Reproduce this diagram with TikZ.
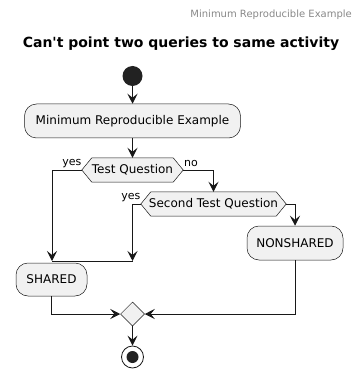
\documentclass[tikz,border=0pt]{standalone}
\usepackage{fontspec}
\setmainfont{DejaVu Sans}[Ligatures=TeXOff]
\usetikzlibrary{arrows.meta,shapes.geometric,calc}
\definecolor{boxfill}{HTML}{F1F1F1}
\definecolor{linecol}{HTML}{181818}
\definecolor{startfill}{HTML}{222222}
\definecolor{headgray}{HTML}{888888}
\begin{document}
\begin{tikzpicture}[x=1pt,y=-1pt,
  conn/.style={draw=linecol,line width=1pt},
  arr/.style={conn,-{Stealth[length=10pt,width=10pt,inset=4pt]}},
  act/.style={draw=linecol,line width=0.5pt,fill=boxfill,rounded corners=12pt,inner sep=0pt,font=\fontsize{12pt}{14pt}\selectfont},
  hexbox/.style={inner sep=0pt,font=\fontsize{12pt}{14pt}\selectfont},
  hexline/.style={draw=linecol,line width=0.5pt,fill=boxfill},
  lbl/.style={inner sep=0pt,font=\fontsize{11pt}{13pt}\selectfont}]
\useasboundingbox (0,0) rectangle (362,387);
% header and title
\node[anchor=east,inner sep=0pt,text=headgray,font=\fontsize{10pt}{12pt}\selectfont] (hdr) at (352,15) {Minimum Reproducible Example};
\node[inner sep=0pt,font=\fontsize{14pt}{16pt}\selectfont\bfseries] (ttl) at (181,44) {Can't point two queries to same activity};
% start
\node[circle,fill=startfill,minimum size=20pt,inner sep=0pt] (start) at (132.5,76) {};
% activity
\node[act,minimum width=216pt,minimum height=34pt] (act1) at (132.5,121) {Minimum Reproducible Example};
% hex 1
\node[hexbox,minimum width=101pt,minimum height=24pt] (hexa) at (132.5,170) {};
\path[hexline] (hexa.west) -- ($(hexa.north west)+(10,0)$) -- ($(hexa.north east)+(-10,0)$) -- (hexa.east) -- ($(hexa.south east)+(-10,0)$) -- ($(hexa.south west)+(10,0)$) -- cycle;
\node[hexbox] (hexat) at (132.5,170) {Test Question};
% hex 2
\node[hexbox,minimum width=145pt,minimum height=24pt] (hexb) at (213.5,204) {};
\path[hexline] (hexb.west) -- ($(hexb.north west)+(10,0)$) -- ($(hexb.north east)+(-10,0)$) -- (hexb.east) -- ($(hexb.south east)+(-10,0)$) -- ($(hexb.south west)+(10,0)$) -- cycle;
\node[hexbox] (hexbt) at (213.5,204) {Second Test Question};
% activities
\node[act,minimum width=71pt,minimum height=33pt] (shared) at (51.5,279.5) {SHARED};
\node[act,minimum width=96pt,minimum height=34pt] (nonshared) at (295,243) {NONSHARED};
% merge
\node[diamond,draw=linecol,line width=0.5pt,fill=boxfill,minimum width=24pt,minimum height=24pt,inner sep=0pt] (merge) at (132.5,314) {};
% end
\node[circle,draw=linecol,line width=0.8pt,fill=white,minimum size=22pt,inner sep=0pt] (stop) at (132.5,357) {};
\node[circle,fill=startfill,minimum size=12pt,inner sep=0pt] (stopin) at (132.5,357) {};
% labels
\node[lbl,anchor=east] (y1) at (81.5,163.5) {yes};
\node[lbl,anchor=west] (n1) at (184,163.5) {no};
\node[lbl,anchor=east] (y2) at (140.5,198) {yes};
% coordinates
\coordinate (ja) at (132.5,261);
\coordinate (jb) at (52,261);
% connectors
\draw[arr] (start) -- (act1.north);
\draw[arr] (act1.south) -- (hexa.north);
\draw[arr] (hexa.west) -| (jb);
\draw[arr] (hexa.east) -| (hexb.north);
\draw[arr] (hexb.west) -| (ja);
\draw[conn] (ja) -- (jb);
\draw[arr] (hexb.east) -| (nonshared.north);
\draw[arr] (shared.south) |- (merge.west);
\draw[arr] (nonshared.south) |- (merge.east);
\draw[arr] (merge.south) -- (stop.north);
\end{tikzpicture}
\end{document}
